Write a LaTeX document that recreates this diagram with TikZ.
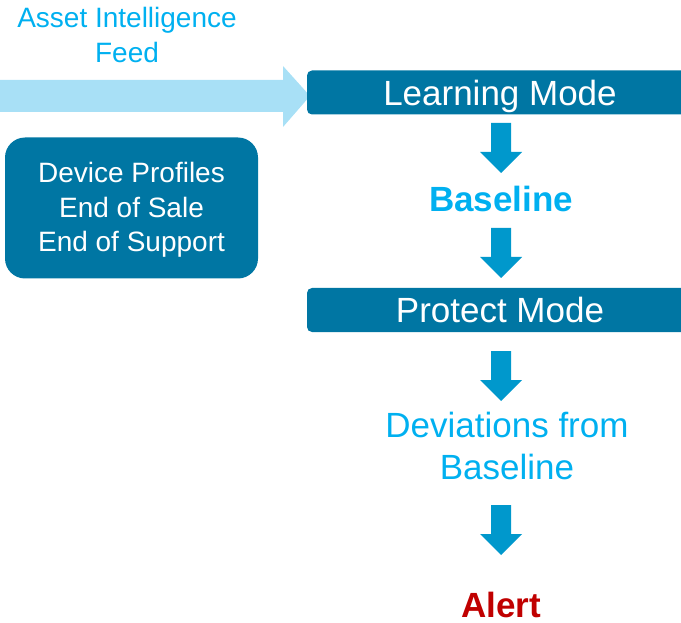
\documentclass[tikz,border=0pt]{standalone}
\usepackage{fontspec}
\setmainfont{Liberation Sans}
\definecolor{boxteal}{RGB}{0,118,163}
\definecolor{arrowblue}{RGB}{0,152,204}
\definecolor{feedblue}{RGB}{168,224,246}
\definecolor{textcyan}{RGB}{0,176,240}
\definecolor{alertred}{RGB}{192,0,0}
\tikzset{
  modebox/.style={fill=boxteal, rounded corners=5pt, text=white,
    minimum width=386pt, minimum height=44pt, text height=26pt, text depth=0pt,
    font=\fontsize{35}{42}\selectfont},
  infobox/.style={fill=boxteal, rounded corners=20pt, text=white, align=center,
    minimum width=253pt, minimum height=141pt,
    font=\fontsize{28}{34.5}\selectfont},
  step text/.style={text=textcyan, font=\fontsize{35}{42}\selectfont},
  pics/fatdown/.style={code={
    \fill[arrowblue] (-10,0) -- (10,0) -- (10,29) -- (21,29) -- (0,50)
      -- (-21,29) -- (-10,29) -- cycle;}}
}
\begin{document}
\begin{tikzpicture}[x=1pt, y=-1pt]
\useasboundingbox (0,0) rectangle (681,623);
% feed arrow into learning mode
\coordinate (F0) at (0,96);
\fill[feedblue] (F0) ++(0,-16) -- ++(283,0) -- ++(0,-14) -- ++(27,30)
  -- ++(-27,31) -- ++(0,-15) -- ++(-283,0) -- cycle;
\node[text=textcyan, align=center, font=\fontsize{28}{35}\selectfont]
  (feed) at (127,34.5) {Asset Intelligence\\Feed};
\node[modebox] (learn) at (500,92.5) {Learning Mode};
\node[infobox] (profiles) at (131.5,208) {\rule{0pt}{24pt}Device Profiles\\End of Sale\\End of Support};
\node[step text, anchor=base, font=\fontsize{35}{42}\selectfont\bfseries]
  (base) at (501,212) {Baseline};
\node[modebox] (protect) at (500,310) {Protect Mode};
\node[step text, align=center] (dev) at (507,446) {Deviations from\\Baseline};
\node[anchor=base, text=alertred, font=\fontsize{35}{42}\selectfont\bfseries]
  (alert) at (501,617) {Alert};
% block arrows
\pic at (501,123) {fatdown};
\pic at (501,228) {fatdown};
\pic at (501,351) {fatdown};
\pic at (501,505) {fatdown};
\end{tikzpicture}
\end{document}
